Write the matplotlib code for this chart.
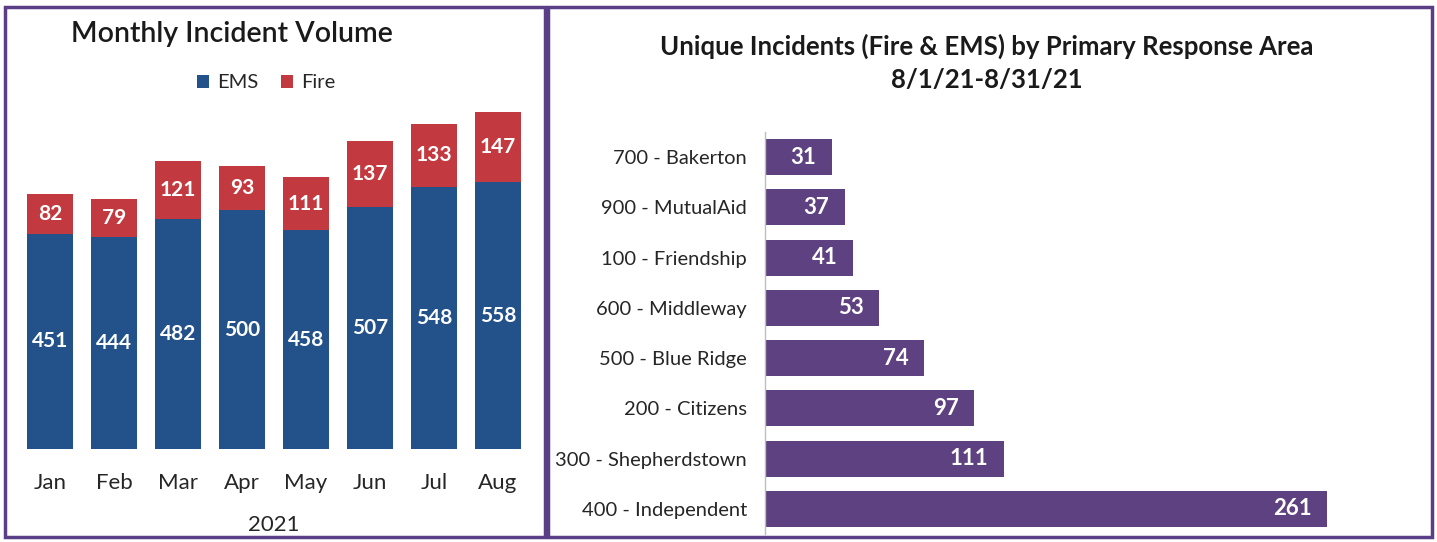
import numpy as np
import matplotlib.pyplot as plt
from matplotlib.patches import Rectangle

plt.rcParams['font.family'] = ['Lato', 'DejaVu Sans']

W, H = 1437, 542

# monthly data
months = ['Jan', 'Feb', 'Mar', 'Apr', 'May', 'Jun', 'Jul', 'Aug']
ems    = [451, 444, 482, 500, 458, 507, 548, 558]
fire   = [82, 79, 121, 93, 111, 137, 133, 147]

# response area data (top to bottom)
areas  = ['700 - Bakerton', '900 - MutualAid', '100 - Friendship', '600 - Middleway',
          '500 - Blue Ridge', '200 - Citizens', '300 - Shepherdstown', '400 - Independent']
counts = [31, 37, 41, 53, 74, 97, 111, 261]

c_ems = '#23518a'
c_fire = '#c23a3f'
c_purple = '#5e4180'
c_border = '#5a3f86'
c_text = '#262626'

def px(x0, y0, x1, y1):
    return [x0 / W, 1 - y1 / H, (x1 - x0) / W, (y1 - y0) / H]

fig = plt.figure(figsize=(W / 100, H / 100), dpi=100)

# panel borders
for x0, x1 in [(5, 545), (548, 1432)]:
    fig.patches.append(Rectangle((x0 / W, 1 - 537 / H), (x1 - x0) / W, 530 / H,
                                 transform=fig.transFigure, fill=False,
                                 edgecolor=c_border, linewidth=2.5))

# ---- left: stacked monthly bars
ax1 = fig.add_axes(px(18, 105, 530, 449))
x = np.arange(len(months))
b1 = ax1.bar(x, ems, width=0.72, color=c_ems, label='EMS')
b2 = ax1.bar(x, fire, width=0.72, bottom=ems, color=c_fire, label='Fire')
ax1.bar_label(b1, label_type='center', color='white', fontsize=15, fontweight='bold')
ax1.bar_label(b2, labels=[str(v) for v in fire], label_type='center', color='white',
              fontsize=15, fontweight='bold')
ax1.set_xlim(-0.5, 7.5)
ax1.set_ylim(0, 720)
ax1.set_yticks([])
ax1.set_xticks(x, months)
ax1.tick_params(axis='x', length=0, labelsize=16, labelcolor=c_text, pad=17)
for s in ax1.spines.values():
    s.set_visible(False)
ax1.set_xlabel('2021', fontsize=16, color=c_text, labelpad=16)
fig.text(232 / W, 1 - 34 / H, 'Monthly Incident Volume', ha='center', va='center',
         fontsize=20.5, fontweight='semibold', color='#1a1a1a')
ax1.legend(loc='center', bbox_to_anchor=(266 / W, 1 - 83 / H), bbox_transform=fig.transFigure,
           ncol=2, frameon=False, fontsize=14.5, handlelength=0.6, handleheight=0.6,
           handletextpad=0.4, columnspacing=1.1, labelcolor=c_text)

# ---- right: horizontal bars
ax2 = fig.add_axes(px(765, 132, 1389, 534))
y = np.arange(len(areas))
ax2.barh(y, counts, height=0.72, color=c_purple)
for yi, v in zip(y, counts):
    ax2.annotate(str(v), (v, yi), xytext=(-11, 0), textcoords='offset points',
                 ha='right', va='center', color='white', fontsize=16, fontweight='bold')
ax2.set_ylim(7.5, -0.5)
ax2.set_xlim(0, 290)
ax2.set_xticks([])
ax2.set_yticks(y, areas)
ax2.tick_params(axis='y', length=0, labelsize=14.5, labelcolor=c_text, pad=13)
for k in ['top', 'right', 'bottom']:
    ax2.spines[k].set_visible(False)
ax2.spines['left'].set_color('#bdbdbd')
ax2.spines['left'].set_linewidth(1)
fig.text(987 / W, 1 - 46 / H, 'Unique Incidents (Fire & EMS) by Primary Response Area',
         ha='center', va='center', fontsize=18.5, fontweight='bold', color='#1a1a1a')
fig.text(987 / W, 1 - 80 / H, '8/1/21-8/31/21', ha='center', va='center',
         fontsize=18.5, fontweight='bold', color='#1a1a1a')

fig.savefig('out.png', dpi=100, facecolor='white')
